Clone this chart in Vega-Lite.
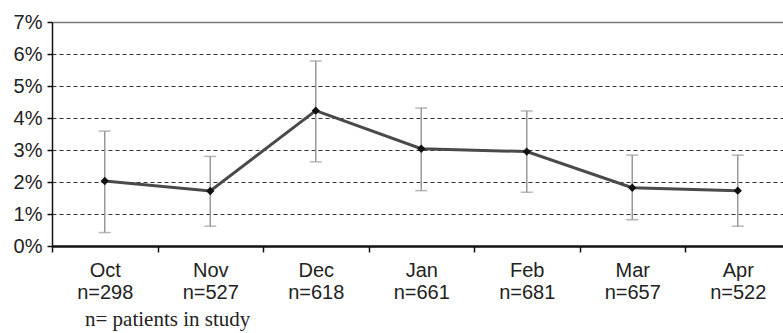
{
  "$schema": "https://vega.github.io/schema/vega-lite/v6.json",
  "autosize": {"type": "none"},
  "width": 731,
  "height": 224,
  "padding": {"left": 52, "top": 22, "right": 0, "bottom": 87},
  "background": "white",
  "config": {
    "view": {"stroke": null},
    "font": "Liberation Sans",
    "axisY": {
      "title": null,
      "tickCount": 7,
      "format": ".0%",
      "labelOverlap": false,
      "labelFont": "Liberation Sans",
      "labelFontSize": 20,
      "labelColor": "#222",
      "labelPadding": 5,
      "tickSize": 5,
      "tickColor": "#111",
      "tickWidth": 1.5,
      "domainColor": "#111",
      "domainWidth": 1.5,
      "grid": true,
      "gridColor": {"condition": {"test": "datum.value > 0.065", "value": "#777"}, "value": "#333"},
      "gridDash": {"condition": {"test": "datum.value > 0.065", "value": []}, "value": [4, 3]},
      "gridWidth": {"condition": {"test": "datum.value > 0.065", "value": 1.5}, "value": 1}
    }
  },
  "title": {
    "text": "n= patients in study",
    "orient": "bottom",
    "anchor": "start",
    "frame": "group",
    "font": "Liberation Serif",
    "fontSize": 21,
    "fontWeight": "normal",
    "color": "#222",
    "dx": 33,
    "offset": 7
  },
  "data": {
    "values": [
      {"label": "Oct\nn=298", "rate": 0.0203, "lo": 0.0042, "hi": 0.0359},
      {"label": "Nov\nn=527", "rate": 0.0172, "lo": 0.0062, "hi": 0.0280},
      {"label": "Dec\nn=618", "rate": 0.0423, "lo": 0.0263, "hi": 0.0578},
      {"label": "Jan\nn=661", "rate": 0.0304, "lo": 0.0173, "hi": 0.0431},
      {"label": "Feb\nn=681", "rate": 0.0295, "lo": 0.0168, "hi": 0.0422},
      {"label": "Mar\nn=657", "rate": 0.0182, "lo": 0.0082, "hi": 0.0284},
      {"label": "Apr\nn=522", "rate": 0.0173, "lo": 0.0062, "hi": 0.0284}
    ]
  },
  "encoding": {
    "x": {
      "field": "label",
      "type": "nominal",
      "sort": null,
      "scale": {"paddingInner": 0, "paddingOuter": 0, "range": [0, 738.5]},
      "axis": {
        "title": null,
        "labelAngle": 0,
        "labelExpr": "split(datum.label, '\\n')",
        "labelFont": "Liberation Sans",
        "labelFontSize": 20,
        "labelLineHeight": 22,
        "labelColor": "#222",
        "labelPadding": 8,
        "tickBand": "extent",
        "tickSize": 6,
        "tickWidth": 1.5,
        "tickColor": "#111",
        "domainColor": "#111",
        "domainWidth": 2.5,
        "grid": false
      }
    }
  },
  "layer": [
    {
      "mark": {"type": "rule", "color": "#999", "strokeWidth": 1.5},
      "encoding": {
        "y": {"field": "lo", "type": "quantitative", "scale": {"domain": [0, 0.07], "nice": false}, "axis": {"labelFontSize": 20, "labelFont": "Liberation Sans", "title": null}},
        "y2": {"field": "hi"}
      }
    },
    {
      "mark": {"type": "tick", "color": "#999", "thickness": 1.5, "size": 12, "orient": "horizontal"},
      "encoding": {"y": {"field": "lo", "type": "quantitative", "axis": {"labelFontSize": 20, "labelFont": "Liberation Sans", "title": null}}}
    },
    {
      "mark": {"type": "tick", "color": "#999", "thickness": 1.5, "size": 12, "orient": "horizontal"},
      "encoding": {"y": {"field": "hi", "type": "quantitative", "axis": {"labelFontSize": 20, "labelFont": "Liberation Sans", "title": null}}}
    },
    {
      "mark": {"type": "line", "color": "#4a4a4a", "strokeWidth": 3},
      "encoding": {"y": {"field": "rate", "type": "quantitative", "axis": {"labelFontSize": 20, "labelFont": "Liberation Sans", "title": null}}}
    },
    {
      "mark": {"type": "point", "shape": "diamond", "filled": true, "color": "#111", "size": 70, "opacity": 1},
      "encoding": {"y": {"field": "rate", "type": "quantitative", "axis": {"labelFontSize": 20, "labelFont": "Liberation Sans", "title": null}}}
    }
  ]
}
